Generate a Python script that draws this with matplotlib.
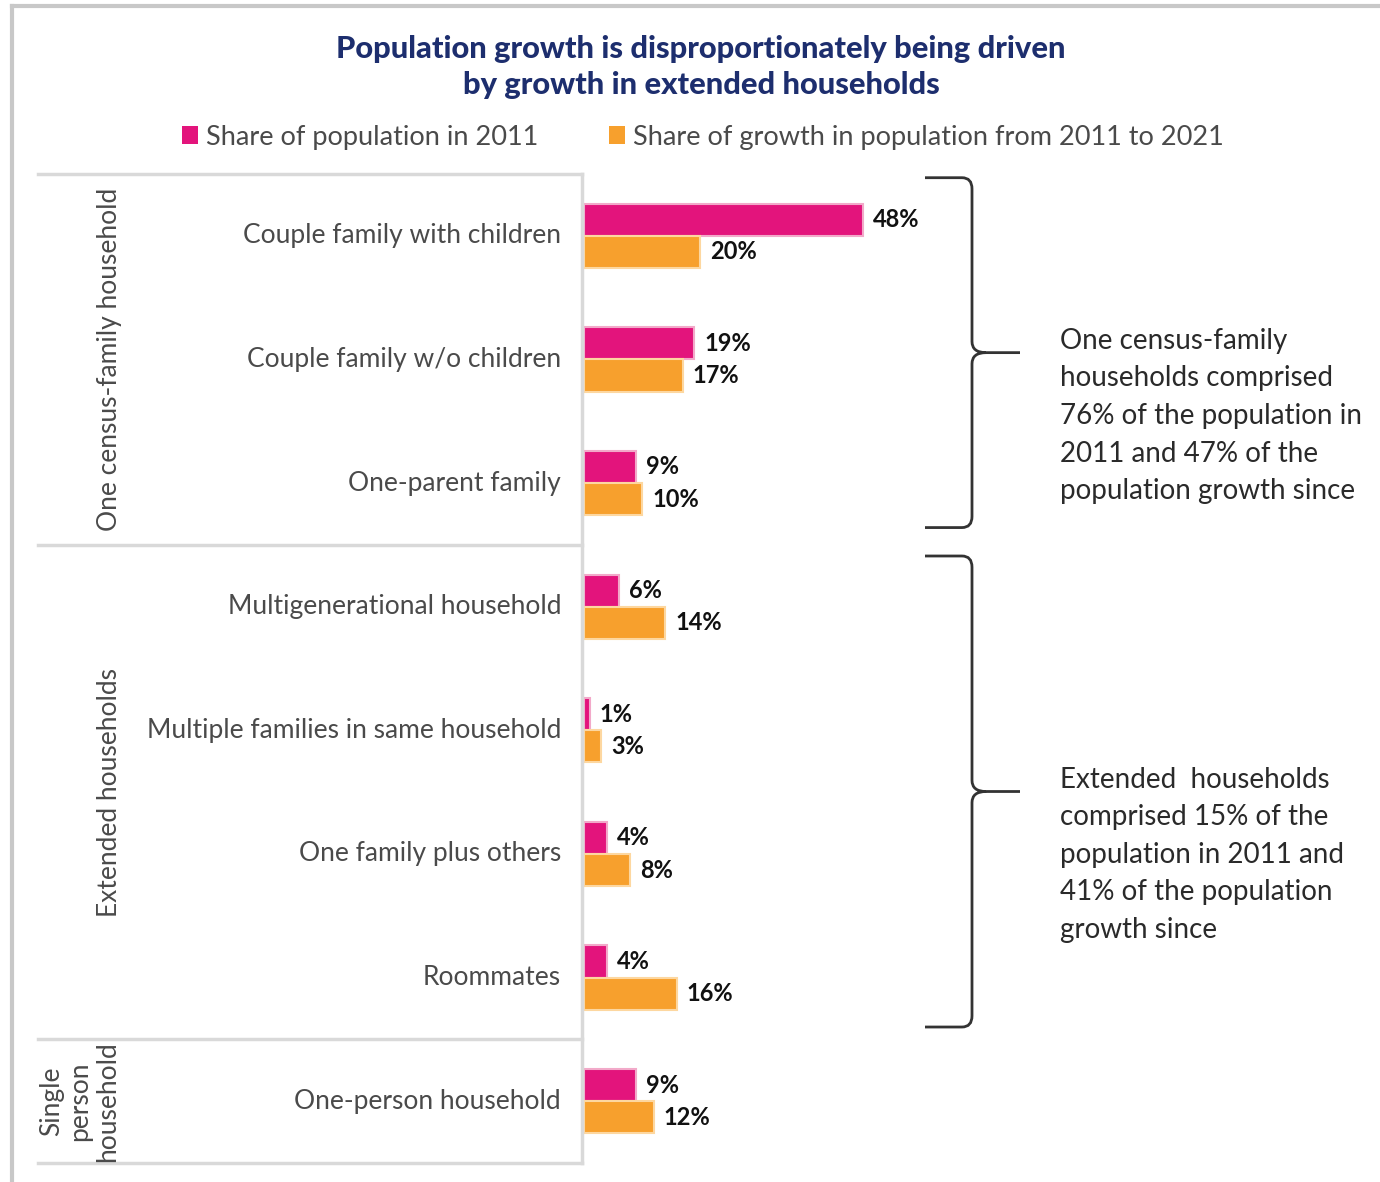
import matplotlib
matplotlib.use("Agg")
import matplotlib.pyplot as plt
from matplotlib.patches import Patch, PathPatch
from matplotlib.path import Path
from matplotlib.transforms import blended_transform_factory
from matplotlib.lines import Line2D

# ---------------- data ----------------
categories = ["Couple family with children", "Couple family w/o children", "One-parent family",
              "Multigenerational household", "Multiple families in same household",
              "One family plus others", "Roommates", "One-person household"]
share_2011 = [48, 19, 9, 6, 1, 4, 4, 9]
share_growth = [20, 17, 10, 14, 3, 8, 16, 12]
groups = ["One census-family household", "Extended households", "Single\nperson\nhousehold"]
group_rows = [(0, 2), (3, 6), (7, 7)]
series_names = ["Share of population in 2011", "Share of growth in population from 2011 to 2021"]
title = "Population growth is disproportionately being driven\nby growth in extended households"
notes = ["One census-family\nhouseholds comprised\n76% of the population in\n2011 and 47% of the\npopulation growth since",
         "Extended  households\ncomprised 15% of the\npopulation in 2011 and\n41% of the population\ngrowth since"]

PINK = "#E3147C"
ORANGE = "#F7A02D"
PINK_EDGE = "#F2A9C9"
ORANGE_EDGE = "#FDD7A0"
GRID = "#D9D9D9"
TXT = "#4A4A4A"
NAVY = "#1D2E6E"

plt.rcParams['font.family'] = ['Lato', 'DejaVu Sans']

W, H = 1380, 1182
fig = plt.figure(figsize=(W / 100, H / 100), dpi=100)

def fx(x):
    return x / W

def fy(y):
    return 1 - y / H

PX_PER_PCT = 5.81
ax_left, ax_top, ax_bot = 584, 174, 1163
ax = fig.add_axes([fx(ax_left), fy(ax_bot), (W - ax_left) / W, (ax_bot - ax_top) / H])
ax.set_xlim(0, (W - ax_left) / PX_PER_PCT)
n = len(categories)
ax.set_ylim(n - 0.5, -0.5)
ax.axis('off')

bh = 0.26
ys = list(range(n))
ax.barh([y - bh / 2 for y in ys], share_2011, height=bh, color=PINK, edgecolor=PINK_EDGE, linewidth=1.5)
ax.barh([y + bh / 2 for y in ys], share_growth, height=bh, color=ORANGE, edgecolor=ORANGE_EDGE, linewidth=1.5)

off = 10 / PX_PER_PCT
for y, a, b in zip(ys, share_2011, share_growth):
    ax.text(a + off, y - bh / 2, f"{a}%", va='center', ha='left', fontsize=17, color='#111111', fontweight='bold')
    ax.text(b + off, y + bh / 2, f"{b}%", va='center', ha='left', fontsize=17, color='#111111', fontweight='bold')

trans = blended_transform_factory(fig.transFigure, ax.transData)

# table lines
bounds = [-0.5] + [g[1] + 0.5 for g in group_rows]
for b in bounds:
    ax.add_line(Line2D([fx(38), fx(582)], [b, b], transform=trans, color=GRID, lw=2.5, clip_on=False))
ax.add_line(Line2D([fx(582), fx(582)], [-0.5, n - 0.5], transform=trans, color=GRID, lw=2.5, clip_on=False))

# row labels
for y, c in zip(ys, categories):
    ax.text(fx(561), y, c, transform=trans, ha='right', va='center', fontsize=19, color=TXT)

# group labels
for g, (a, b) in zip(groups, group_rows):
    xg = 110 if "\n" not in g else 80
    ax.text(fx(xg), (a + b) / 2, g, transform=trans, rotation=90, ha='center', va='center',
            fontsize=19, color=TXT, multialignment='center', linespacing=1.15)

# braces
def brace(y0, y1, xa=925, xv=972, xt=1020, r=0.09):
    ym = (y0 + y1) / 2
    X = fx
    verts = [(X(xa), y0), (X(xv - 10), y0), (X(xv), y0), (X(xv), y0 + r),
             (X(xv), ym - r), (X(xv), ym), (X(xv + 14), ym), (X(xt), ym),
             (X(xv + 14), ym), (X(xv), ym), (X(xv), ym + r),
             (X(xv), y1 - r), (X(xv), y1), (X(xv - 10), y1), (X(xa), y1)]
    codes = [Path.MOVETO, Path.LINETO, Path.CURVE3, Path.CURVE3,
             Path.LINETO, Path.CURVE3, Path.CURVE3, Path.LINETO,
             Path.MOVETO, Path.CURVE3, Path.CURVE3,
             Path.LINETO, Path.CURVE3, Path.CURVE3, Path.LINETO]
    p = PathPatch(Path(verts, codes), transform=trans, fill=False, edgecolor='#333333', lw=2, clip_on=False)
    ax.add_patch(p)
    return ym

brace_ranges = [(-0.47, 2.36), (2.59, 6.40)]
for (y0, y1), note in zip(brace_ranges, notes):
    ym = brace(y0, y1)
    ax.text(fx(1060), ym - 0.2, note, transform=trans, ha='left', va='top', fontsize=20,
            color='#2A2A2A', linespacing=1.55)

# title
fig.text(fx(701), fy(67), title, ha='center', va='center', fontsize=22.2, fontweight='black',
         color=NAVY, linespacing=1.38)

# legend
handles = [Patch(facecolor=PINK, edgecolor='none'), Patch(facecolor=ORANGE, edgecolor='none')]
fig.legend(handles, series_names, loc='center', bbox_to_anchor=(fx(703), fy(137)), ncol=2,
           frameon=False, fontsize=19.5, handlelength=0.6, handleheight=0.6, handletextpad=0.3,
           columnspacing=2.6, labelcolor=TXT)

# outer frame
fig.add_artist(Line2D([fx(12), 1], [fy(6), fy(6)], color='#C8C8C8', lw=3))
fig.add_artist(Line2D([fx(12), fx(12)], [fy(6), 0], color='#C8C8C8', lw=3))

fig.savefig("out.png", dpi=100)
